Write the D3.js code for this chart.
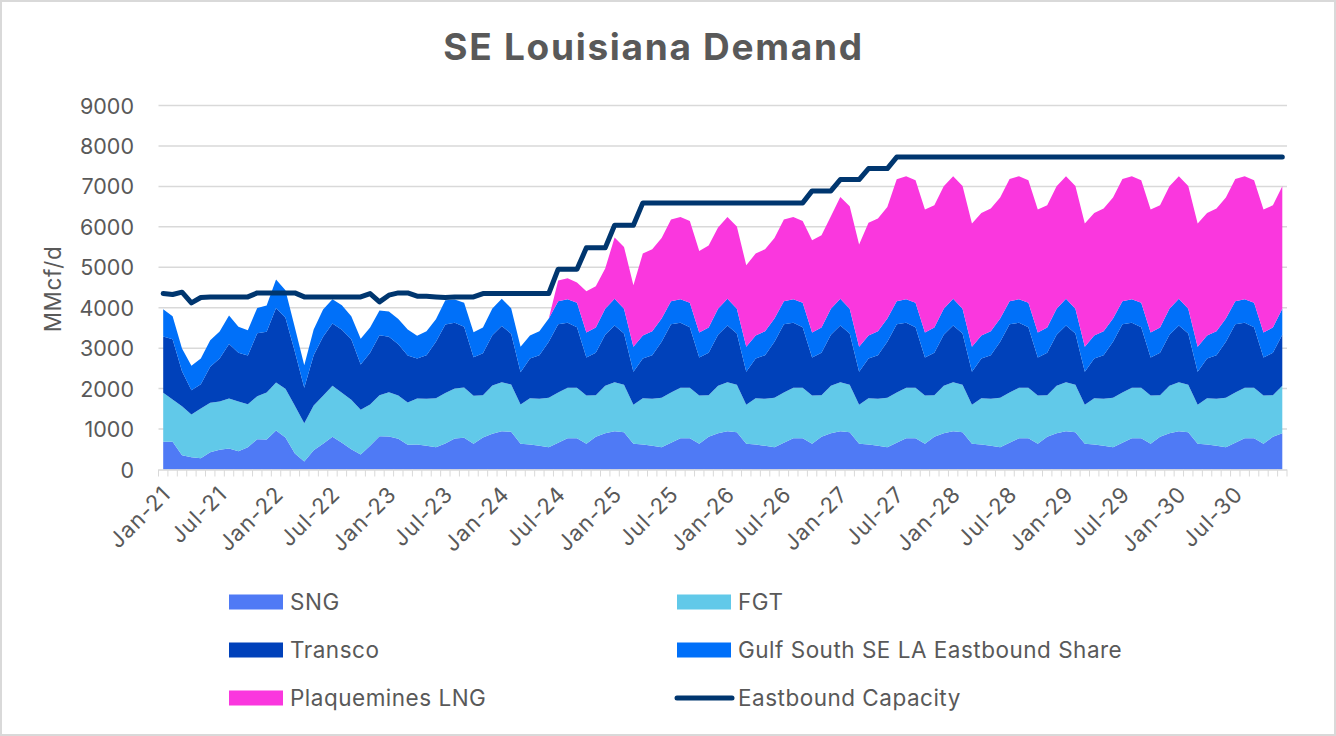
<!DOCTYPE html>
<html>
<head>
<meta charset="utf-8">
<script src="https://cdn.jsdelivr.net/npm/d3@7"></script>
<style>
  html, body { margin: 0; padding: 0; background: #fff; overflow: hidden; }
  text { font-family: Inter, "Noto Sans", sans-serif; fill: #595959; }
</style>
</head>
<body>
<div id="svg-container"></div>
<script>
const yearsShown = [21, 22, 23, 24, 25, 26, 27, 28, 29, 30];
const monthNames = ["Jan", "Feb", "Mar", "Apr", "May", "Jun", "Jul", "Aug", "Sep", "Oct", "Nov", "Dec"];
const yTicks = [0, 1000, 2000, 3000, 4000, 5000, 6000, 7000, 8000, 9000];

const sng = [
  684, 684, 354, 305, 280, 428, 486, 519, 453, 552, 750, 742,
  964, 791, 395, 198, 478, 634, 807, 659, 502, 371, 585, 824,
  816, 758, 610, 618, 585, 552, 643, 766, 783, 634, 791, 882,
  948, 931, 634, 618, 585, 552, 659, 775, 775, 634, 807, 898,
  948, 923, 634, 618, 585, 552, 659, 775, 775, 634, 807, 898,
  948, 923, 634, 618, 585, 552, 659, 775, 775, 634, 807, 898,
  948, 923, 634, 618, 585, 552, 659, 775, 775, 634, 807, 898,
  948, 923, 634, 618, 585, 552, 659, 775, 775, 634, 807, 898,
  948, 923, 634, 618, 585, 552, 659, 775, 775, 634, 807, 898,
  948, 923, 634, 618, 585, 552, 659, 775, 775, 634, 807, 898,
];
const fgt = [
  1211, 1046, 1212, 1055, 1228, 1220, 1195, 1236, 1228, 1063, 1063, 1161,
  1187, 1203, 1179, 947, 1104, 1187, 1261, 1236, 1220, 1104, 1022, 1014,
  1096, 1071, 1046, 1137, 1162, 1211, 1247, 1234, 1244, 1187, 1047, 1194,
  1211, 1170, 973, 1145, 1162, 1219, 1244, 1244, 1244, 1195, 1030, 1170,
  1211, 1170, 965, 1145, 1162, 1219, 1244, 1244, 1244, 1195, 1030, 1170,
  1211, 1170, 965, 1145, 1162, 1219, 1244, 1244, 1244, 1195, 1030, 1170,
  1211, 1170, 965, 1145, 1162, 1219, 1244, 1244, 1244, 1195, 1030, 1170,
  1211, 1170, 965, 1145, 1162, 1219, 1244, 1244, 1244, 1195, 1030, 1170,
  1211, 1170, 965, 1145, 1162, 1219, 1244, 1244, 1244, 1195, 1030, 1170,
  1211, 1170, 965, 1145, 1162, 1219, 1244, 1244, 1244, 1195, 1030, 1170,
];
const transco = [
  1393, 1492, 865, 601, 601, 890, 1063, 1351, 1203, 1203, 1557, 1500,
  1845, 1755, 1335, 874, 1244, 1459, 1541, 1558, 1500, 1121, 1277, 1483,
  1368, 1269, 1162, 989, 1079, 1393, 1694, 1626, 1500, 956, 1038, 1245,
  1392, 1253, 799, 981, 1079, 1385, 1690, 1607, 1499, 940, 1047, 1261,
  1401, 1269, 815, 981, 1079, 1385, 1690, 1607, 1499, 940, 1047, 1261,
  1401, 1269, 815, 981, 1079, 1385, 1690, 1607, 1499, 940, 1047, 1261,
  1401, 1269, 815, 981, 1079, 1385, 1690, 1607, 1499, 940, 1047, 1261,
  1401, 1269, 815, 981, 1079, 1385, 1690, 1607, 1499, 940, 1047, 1261,
  1401, 1269, 815, 981, 1079, 1385, 1690, 1607, 1499, 940, 1047, 1261,
  1401, 1269, 815, 981, 1079, 1385, 1690, 1607, 1499, 940, 1047, 1261,
];
const gulfSouth = [
  675, 568, 560, 602, 635, 659, 667, 701, 643, 626, 626, 651,
  701, 684, 601, 560, 635, 675, 602, 609, 568, 634, 626, 609,
  626, 626, 643, 560, 594, 560, 602, 576, 593, 618, 634, 659,
  668, 634, 626, 568, 594, 577, 568, 585, 602, 618, 626, 643,
  659, 610, 618, 568, 594, 577, 568, 585, 602, 618, 626, 643,
  659, 610, 618, 568, 594, 577, 568, 585, 602, 618, 626, 643,
  659, 610, 618, 568, 594, 577, 568, 585, 602, 618, 626, 643,
  659, 610, 618, 568, 594, 577, 568, 585, 602, 618, 626, 643,
  659, 610, 618, 568, 594, 577, 568, 585, 602, 618, 626, 643,
  659, 610, 618, 568, 594, 577, 568, 585, 602, 618, 626, 643,
];
const plaquemines = [
  0, 0, 0, 0, 0, 0, 0, 0, 0, 0, 0, 0,
  0, 0, 0, 0, 0, 0, 0, 0, 0, 0, 0, 0,
  0, 0, 0, 0, 0, 0, 0, 0, 0, 0, 0, 0,
  0, 0, 0, 0, 0, 0, 515, 519, 503, 1021, 1022, 997,
  1516, 1532, 1525, 2028, 2027, 1994, 2019, 2035, 2027, 2018, 2027, 2010,
  2027, 2035, 2019, 2028, 2027, 1994, 2019, 2035, 2027, 2282, 2283, 2290,
  2521, 2538, 2530, 2786, 2785, 2760, 3016, 3040, 3032, 3040, 3024, 3032,
  3032, 3040, 3049, 3033, 3032, 2991, 3024, 3040, 3032, 3040, 3024, 3032,
  3032, 3040, 3049, 3033, 3032, 2991, 3024, 3040, 3032, 3040, 3024, 3032,
  3032, 3040, 3049, 3033, 3032, 2991, 3024, 3040, 3032, 3040, 3024, 3032,
];
const capacity = [
  4351, 4326, 4384, 4120, 4252, 4268, 4268, 4268, 4268, 4268, 4367, 4367,
  4367, 4367, 4367, 4268, 4268, 4268, 4268, 4268, 4268, 4268, 4351, 4145,
  4310, 4367, 4367, 4285, 4285, 4268, 4252, 4268, 4268, 4268, 4351, 4351,
  4351, 4351, 4351, 4351, 4351, 4351, 4952, 4952, 4952, 5480, 5480, 5480,
  6040, 6040, 6040, 6592, 6592, 6592, 6592, 6592, 6592, 6592, 6592, 6592,
  6592, 6592, 6592, 6592, 6592, 6592, 6592, 6592, 6592, 6889, 6889, 6889,
  7169, 7169, 7169, 7441, 7441, 7441, 7725, 7725, 7725, 7725, 7725, 7725,
  7725, 7725, 7725, 7725, 7725, 7725, 7725, 7725, 7725, 7725, 7725, 7725,
  7725, 7725, 7725, 7725, 7725, 7725, 7725, 7725, 7725, 7725, 7725, 7725,
  7725, 7725, 7725, 7725, 7725, 7725, 7725, 7725, 7725, 7725, 7725, 7725,
];

const months = yearsShown.flatMap((yy) => monthNames.map((m) => `${m}-${yy}`));
const seriesNames = ["SNG", "FGT", "Transco", "Gulf South SE LA Eastbound Share", "Plaquemines LNG"];
const seriesValues = [sng, fgt, transco, gulfSouth, plaquemines];
const seriesColors = ["#4f7af5", "#61c9e9", "#0041ba", "#0070f9", "#fa37de"];
const lineColor = "#00366f";
const gridColor = "#d9d9d9";

const width = 1336;
const height = 736;
const plot = { left: 158.5, right: 1287, top: 105.5, bottom: 469.5 };

const svg = d3
  .select("#svg-container")
  .append("svg")
  .attr("width", width)
  .attr("height", height)
  .style("display", "block");

// thin frame of the pasted chart
svg
  .append("rect")
  .attr("x", 1)
  .attr("y", 1)
  .attr("width", 1334)
  .attr("height", 734)
  .attr("fill", "#fff")
  .attr("stroke", "#d9d9d9")
  .attr("stroke-width", 2);

const x = d3.scaleBand().domain(months).range([plot.left, plot.right]);
const y = d3.scaleLinear().domain([0, 9000]).range([plot.bottom, plot.top]);
const xc = (m) => x(m) + x.bandwidth() / 2;

// gridlines
svg
  .selectAll(".grid")
  .data(yTicks.filter((d) => d > 0))
  .enter()
  .append("line")
  .attr("class", "grid")
  .attr("x1", plot.left)
  .attr("x2", plot.right)
  .attr("y1", (d) => y(d))
  .attr("y2", (d) => y(d))
  .attr("stroke", gridColor)
  .attr("stroke-width", 1.5);

// stacked areas
const rows = months.map((m, i) => {
  const row = { month: m };
  seriesNames.forEach((name, s) => (row[name] = seriesValues[s][i]));
  return row;
});
const stacked = d3.stack().keys(seriesNames)(rows);
const area = d3
  .area()
  .x((d) => xc(d.data.month))
  .y0((d) => y(d[0]))
  .y1((d) => y(d[1]));

svg
  .selectAll(".layer")
  .data(stacked)
  .enter()
  .append("path")
  .attr("class", "layer")
  .attr("d", area)
  .attr("fill", (d, i) => seriesColors[i]);

// capacity line
const line = d3
  .line()
  .x((d, i) => xc(months[i]))
  .y((d) => y(d));

svg
  .append("path")
  .attr("d", line(capacity))
  .attr("fill", "none")
  .attr("stroke", lineColor)
  .attr("stroke-width", 5)
  .attr("stroke-linecap", "round")
  .attr("stroke-linejoin", "round");

// x axis: tick marks between months, labels every 6 months
const xAxisG = svg.append("g");
xAxisG
  .append("line")
  .attr("x1", plot.left)
  .attr("x2", plot.right)
  .attr("y1", plot.bottom + 0.5)
  .attr("y2", plot.bottom + 0.5)
  .attr("stroke", gridColor)
  .attr("stroke-width", 1.5);
xAxisG
  .selectAll(".tick-mark")
  .data(months.concat(["end"]))
  .enter()
  .append("line")
  .attr("class", "tick-mark")
  .attr("x1", (d) => (d === "end" ? plot.right : x(d)))
  .attr("x2", (d) => (d === "end" ? plot.right : x(d)))
  .attr("y1", plot.bottom)
  .attr("y2", plot.bottom + 7)
  .attr("stroke", gridColor)
  .attr("stroke-width", 1);
xAxisG
  .selectAll(".x-label")
  .data(months.filter((d, i) => i % 6 === 0))
  .enter()
  .append("text")
  .attr("class", "x-label")
  .attr("text-anchor", "end")
  .attr("transform", (d) => `translate(${xc(d) + 9},${plot.bottom + 26}) rotate(-45)`)
  .style("font-size", "22px")
  .style("letter-spacing", "1.1px")
  .text((d) => d);

// y axis labels
svg
  .selectAll(".y-label")
  .data(yTicks)
  .enter()
  .append("text")
  .attr("class", "y-label")
  .attr("x", 134)
  .attr("y", (d) => y(d) + 8)
  .attr("text-anchor", "end")
  .style("font-size", "21.5px")
  .text((d) => d);

svg
  .append("text")
  .attr("transform", "translate(61,289) rotate(-90)")
  .attr("text-anchor", "middle")
  .style("font-size", "22.5px")
  .style("letter-spacing", "0.6px")
  .text("MMcf/d");

svg
  .append("text")
  .attr("x", 653.5)
  .attr("y", 60)
  .attr("text-anchor", "middle")
  .style("font-size", "37px")
  .style("font-weight", "700")
  .style("letter-spacing", "1.7px")
  .text("SE Louisiana Demand");

// legend
const legendNames = seriesNames.concat(["Eastbound Capacity"]);
const legendColors = seriesColors.concat([lineColor]);
const legendX = [229, 677];
const legendY = [602, 650, 698];

const legend = svg
  .selectAll(".legend")
  .data(legendNames)
  .enter()
  .append("g")
  .attr("class", "legend")
  .attr("transform", (d, i) => `translate(${legendX[i % 2]},${legendY[Math.floor(i / 2)]})`);

legend.each(function (d, i) {
  const g = d3.select(this);
  if (d === "Eastbound Capacity") {
    g.append("line")
      .attr("x1", 0)
      .attr("x2", 55)
      .attr("stroke", legendColors[i])
      .attr("stroke-width", 5)
      .attr("stroke-linecap", "round");
  } else {
    g.append("rect")
      .attr("y", -7.5)
      .attr("width", 54)
      .attr("height", 15)
      .attr("fill", legendColors[i]);
  }
  g.append("text")
    .attr("x", 61)
    .attr("y", 8)
    .style("font-size", "22.5px")
    .style("letter-spacing", "0.5px")
    .text(d);
});
</script>
</body>
</html>
